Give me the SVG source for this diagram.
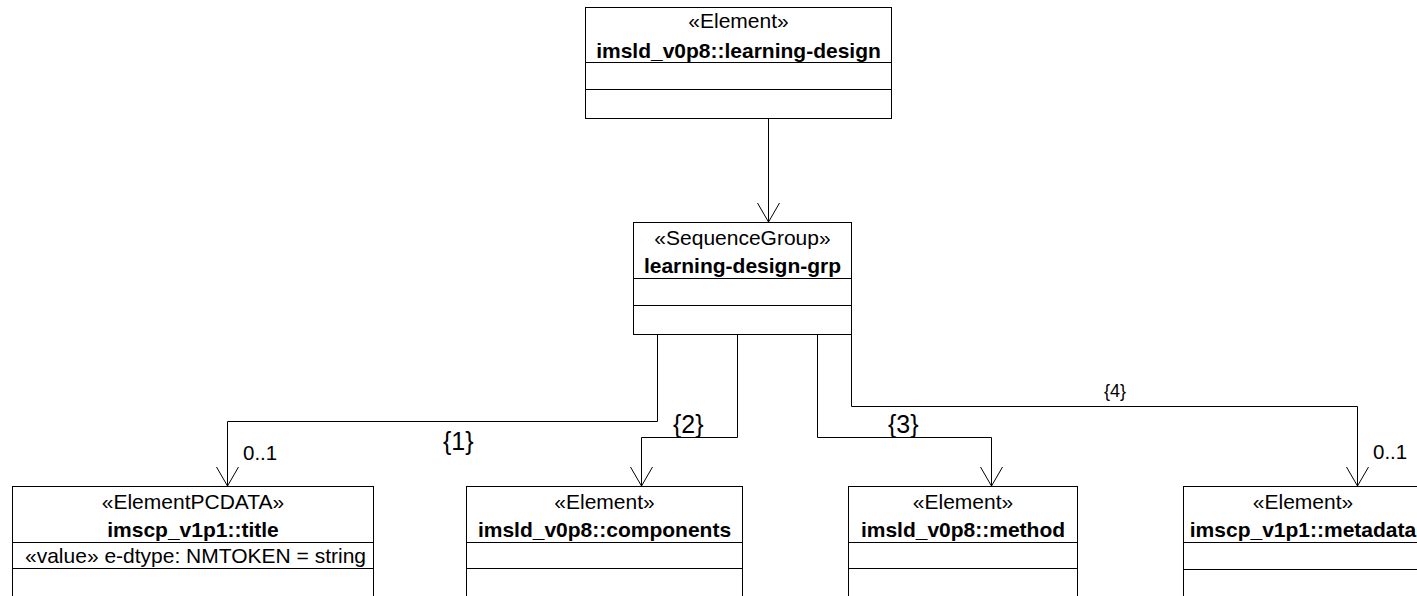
<svg xmlns="http://www.w3.org/2000/svg" width="1417" height="596" viewBox="0 0 1417 596">
<style>
.box{fill:#fff;stroke:#000;stroke-width:1}
.sep{stroke:#000;stroke-width:1}
.st{font-family:"Liberation Sans",Arial,sans-serif;font-size:21px;text-anchor:middle;fill:#000}
.nm{font-family:"Liberation Sans",Arial,sans-serif;font-size:21px;font-weight:bold;text-anchor:middle;fill:#000}
.at{font-family:"Liberation Sans",Arial,sans-serif;font-size:21px;fill:#000}
.con{fill:none;stroke:#000;stroke-width:1}
.lb{font-family:"Liberation Sans",Arial,sans-serif;font-size:25px;fill:#000}
.lbs{font-family:"Liberation Sans",Arial,sans-serif;font-size:18px;fill:#000}
.mul{font-family:"Liberation Sans",Arial,sans-serif;font-size:20.5px;fill:#000}
</style>
<defs>
<marker id="arr" viewBox="-20 -12 21 24" refX="0" refY="0" markerWidth="21" markerHeight="24" markerUnits="userSpaceOnUse" orient="auto" overflow="visible">
<path d="M-19,-11 L0,0 L-19,11" fill="none" stroke="#000" stroke-width="1"/>
</marker>
</defs>
<rect width="1417" height="596" fill="#fff"/>
<g id="connectors">
<path class="con" d="M768.5,118 V222" marker-end="url(#arr)"/>
<path class="con" d="M657.5,334 V421.5 H227.5 V486" marker-end="url(#arr)"/>
<path class="con" d="M737.5,334 V437.5 H641.5 V486" marker-end="url(#arr)"/>
<path class="con" d="M817.5,334 V437.5 H991.5 V486" marker-end="url(#arr)"/>
<path class="con" d="M851.5,334 V406.5 H1357.5 V486" marker-end="url(#arr)"/>
<text class="lb" x="443" y="450">{1}</text>
<text class="lb" x="673" y="433">{2}</text>
<text class="lb" x="888" y="433">{3}</text>
<text class="lbs" x="1104" y="397">{4}</text>
<text class="mul" x="243" y="460">0..1</text>
<text class="mul" x="1373" y="459">0..1</text>
</g>
<g id="learning-design">
<rect class="box" x="585.5" y="7.5" width="306" height="111"/>
<line class="sep" x1="585.5" y1="62.5" x2="891.5" y2="62.5"/>
<line class="sep" x1="585.5" y1="89.5" x2="891.5" y2="89.5"/>
<text class="st" x="738.5" y="28">«Element»</text>
<text class="nm" x="738.5" y="58">imsld_v0p8::learning-design</text>
</g>
<g id="learning-design-grp">
<rect class="box" x="633.5" y="222.5" width="218" height="112"/>
<line class="sep" x1="633.5" y1="278.5" x2="851.5" y2="278.5"/>
<line class="sep" x1="633.5" y1="305.5" x2="851.5" y2="305.5"/>
<text class="st" x="742.5" y="245">«SequenceGroup»</text>
<text class="nm" x="742.5" y="273">learning-design-grp</text>
</g>
<g id="title">
<rect class="box" x="12.5" y="486.5" width="361" height="130"/>
<line class="sep" x1="12.5" y1="542.5" x2="373.5" y2="542.5"/>
<line class="sep" x1="12.5" y1="568.5" x2="373.5" y2="568.5"/>
<text class="st" x="193" y="509">«ElementPCDATA»</text>
<text class="nm" x="193" y="537">imscp_v1p1::title</text>
<text class="at" x="25" y="563">«value» e-dtype: NMTOKEN = string</text>
</g>
<g id="components">
<rect class="box" x="466.5" y="486.5" width="276" height="130"/>
<line class="sep" x1="466.5" y1="542.5" x2="742.5" y2="542.5"/>
<line class="sep" x1="466.5" y1="568.5" x2="742.5" y2="568.5"/>
<text class="st" x="604.5" y="509">«Element»</text>
<text class="nm" x="604.5" y="537">imsld_v0p8::components</text>
</g>
<g id="method">
<rect class="box" x="848.5" y="486.5" width="229" height="130"/>
<line class="sep" x1="848.5" y1="542.5" x2="1077.5" y2="542.5"/>
<line class="sep" x1="848.5" y1="568.5" x2="1077.5" y2="568.5"/>
<text class="st" x="963" y="509">«Element»</text>
<text class="nm" x="963" y="537">imsld_v0p8::method</text>
</g>
<g id="metadata">
<rect class="box" x="1183.5" y="486.5" width="240" height="130"/>
<line class="sep" x1="1183.5" y1="542.5" x2="1423.5" y2="542.5"/>
<line class="sep" x1="1183.5" y1="569.5" x2="1423.5" y2="569.5"/>
<text class="st" x="1303" y="509">«Element»</text>
<text class="nm" x="1303" y="537">imscp_v1p1::metadata</text>
</g>
</svg>
